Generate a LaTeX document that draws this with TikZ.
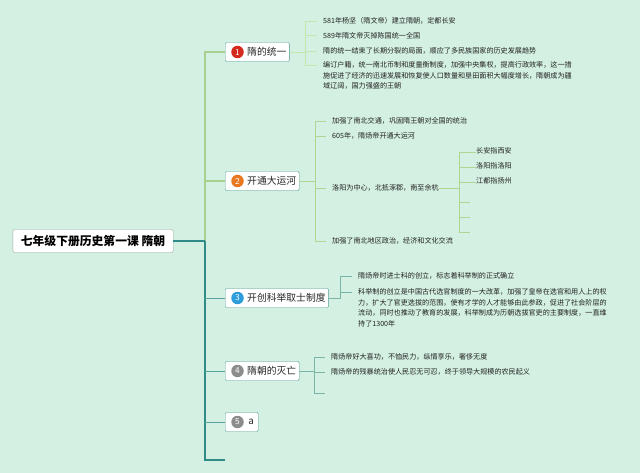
\documentclass[tikz,border=0pt]{standalone}
\usepackage{fontspec}
\newfontfamily\cjk{Noto Sans CJK SC}
\definecolor{mint}{HTML}{D3F0E2}
\definecolor{boxline}{HTML}{4E9A94}
\definecolor{rootline}{HTML}{9EA8A4}
\definecolor{trunkg}{HTML}{A9D18E}
\definecolor{trunkt}{HTML}{2E8B87}
\definecolor{leafg}{HTML}{C5E5AC}
\definecolor{leafo}{HTML}{B0D492}
\definecolor{leaft}{HTML}{7AB5A8}
\definecolor{notetext}{HTML}{222222}
\definecolor{dotred}{HTML}{D42A1E}
\definecolor{dotorange}{HTML}{E87722}
\definecolor{dotblue}{HTML}{2D9CDB}
\definecolor{dotgrey}{HTML}{8C8C8C}

\begin{document}
\begin{tikzpicture}[x=1pt,y=-1pt,
  root/.style={draw=rootline,fill=white,rounded corners=2pt,anchor=west,minimum height=23pt,inner ysep=0pt,inner xsep=8pt,font=\cjk\bfseries\fontsize{11.8}{14}\selectfont},
  topic/.style={draw=boxline,fill=white,rounded corners=1.2pt,anchor=west,minimum height=19pt,inner ysep=0pt,inner xsep=3pt,font=\cjk\fontsize{9.8}{12}\selectfont,text=black!85},
  numdot/.style={circle,fill=#1,text=white,inner sep=0pt,minimum size=12.5pt,font=\sffamily\fontsize{9}{9}\selectfont},
  note/.style={anchor=north west,inner sep=0pt,align=left,font=\cjk\fontsize{7.1}{10.5}\selectfont,text=notetext},
  trunk/.style={draw=#1,line width=1.5pt},
  stub/.style={draw=#1,line width=1pt},
  leaf/.style={draw=#1,line width=0.7pt}]
\fill[mint] (0,0) rectangle (640,473);

\node[root] (root) at (12.7,241) {七年级下册历史第一课 隋朝};
\coordinate (hub) at (205,241);
\coordinate (tail) at (225,460);

\node[topic] (t1) at (225,52) {\hspace*{19pt}隋的统一};
\node[topic] (t2) at (225,181) {\hspace*{19pt}开通大运河};
\node[topic] (t3) at (225,298) {\hspace*{19pt}开创科举取士制度};
\node[topic] (t4) at (225,371) {\hspace*{19pt}隋朝的灭亡};
\node[topic,minimum width=33pt] (t5) at (225,422) {\hspace*{19pt}a};
\node[numdot=dotred] at ([xshift=12.5pt]t1.west) {1};
\node[numdot=dotorange] at ([xshift=12.5pt]t2.west) {2};
\node[numdot=dotblue] at ([xshift=12.5pt]t3.west) {3};
\node[numdot=dotgrey] at ([xshift=12.5pt]t4.west) {4};
\node[numdot=dotgrey] at ([xshift=12.5pt]t5.west) {5};

\draw[trunk=trunkg] (hub) |- (t1.west);
\draw[trunk=trunkg] (hub) |- (t2.west);
\draw[trunk=trunkt] (hub) |- (tail);
\draw[trunk=trunkt] (root.east) -- (hub);
\foreach \t in {t3,t4,t5}
  \draw[stub=trunkt!80] (\t.west -| hub) -- (\t.west);

\node[note] (n11) at (323,17.4) {581年杨坚（隋文帝）建立隋朝，定都长安};
\node[note] (n12) at (323,32) {589年隋文帝灭掉陈国统一全国};
\node[note] (n13) at (323,47.4) {隋的统一结束了长期分裂的局面，顺应了多民族国家的历史发展趋势};
\node[note] (n14) at (323,61.4) {编订户籍，统一南北币制和度量衡制度，加强中央集权，提高行政效率，这一措\\施促进了经济的迅速发展和恢复使人口数量和垦田面积大幅度增长，隋朝成为疆\\域辽阔，国力强盛的王朝};
\draw[leaf=leafg] (t1.east) -- ++(16,0) coordinate (b1);
\foreach \n in {n11,n12,n13,n14}
  \draw[leaf=leafg] (b1) |- ([shift={(-6pt,-3.6pt)}]\n.north west);

\node[note] (n21) at (332,117.4) {加强了南北交通，巩固隋王朝对全国的统治};
\node[note] (n22) at (332,132.4) {605年，隋炀帝开通大运河};
\node[note] (n23) at (332,184.4) {洛阳为中心，北抵涿郡，南至余杭};
\node[note] (n24) at (332,237.4) {加强了南北地区政治，经济和文化交流};
\draw[leaf=leafo] (t2.east) -- ++(16,0) coordinate (b2);
\foreach \n in {n21,n22,n23,n24}
  \draw[leaf=leafo] (b2) |- ([shift={(-6pt,-3.6pt)}]\n.north west);

\node[note] (m1) at (476,147.4) {长安指西安};
\node[note] (m2) at (476,162.4) {洛阳指洛阳};
\node[note] (m3) at (476,177.4) {江都指扬州};
\coordinate (m4) at (476,198.4);
\coordinate (m5) at (476,213.4);
\coordinate (m6) at (476,228.4);
\draw[leaf=leafo] (n23.east) -- ++(20.5,0) coordinate (b22);
\foreach \n in {m1,m2,m3,m4,m5,m6}
  \draw[leaf=leafo] (b22) |- ([shift={(-6pt,-3.6pt)}]\n);

\node[note] (p1) at (358,272.4) {隋炀帝时进士科的创立，标志着科举制的正式确立};
\node[note] (p2) at (358,288.4) {科举制的创立是中国古代选官制度的一大改革，加强了皇帝在选官和用人上的权\\力，扩大了官吏选拔的范围，使有才学的人才能够由此参政，促进了社会阶层的\\流动，同时也推动了教育的发展，科举制成为历朝选拔官吏的主要制度，一直维\\持了1300年};
\draw[leaf=leaft] (t3.east) -- ++(12,0) coordinate (b3);
\foreach \n in {p1,p2}
  \draw[leaf=leaft] (b3) |- ([shift={(-6pt,-3.6pt)}]\n.north west);

\node[note] (q1) at (331,353.4) {隋炀帝好大喜功，不恤民力，纵情享乐，奢侈无度};
\node[note] (q2) at (331,368.4) {隋炀帝的残暴统治使人民忍无可忍，终于领导大规模的农民起义};
\coordinate (q3) at (331,389.6);
\draw[leaf=leaft] (t4.east) -- ++(15,0) coordinate (b4);
\foreach \n in {q1.north west,q2.north west,q3}
  \draw[leaf=leaft] (b4) |- ([shift={(-6pt,-3.6pt)}]\n);
\end{tikzpicture}
\end{document}
